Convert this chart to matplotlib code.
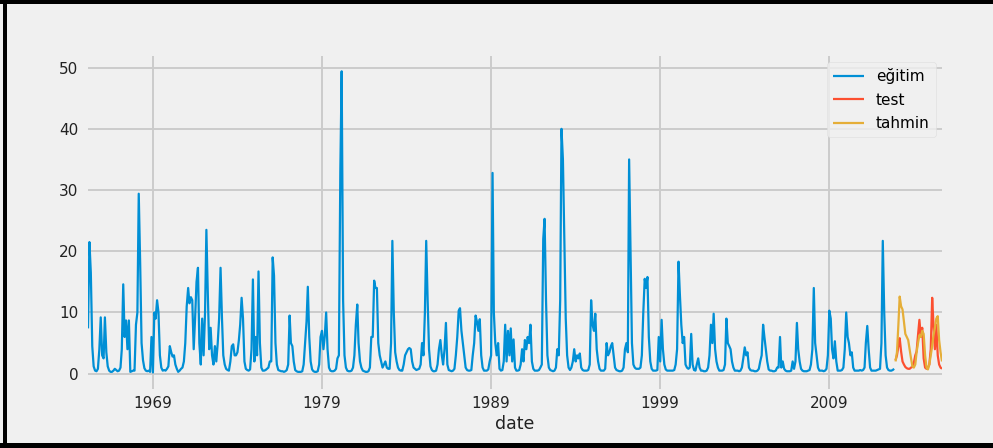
import matplotlib
matplotlib.use("Agg")
import matplotlib.pyplot as plt
import pandas as pd
from matplotlib.patches import Rectangle

plt.style.use("fivethirtyeight")
plt.rcParams["font.family"] = ["DejaVu Sans"]

# ---- data (monthly) ----
train_start = "1965-03-01"
test_start = "2012-12-01"

egitim = [
    7.4, 21.5, 16.5, 4.5, 1.2, 0.5, 0.4, 0.8, 4.0, 9.2,                 # 1965 (Mar-Dec)
    3.0, 2.5, 9.2, 3.5, 1.2, 0.5, 0.3, 0.3, 0.5, 0.8, 0.6, 0.4,         # 1966
    0.5, 1.0, 4.0, 14.6, 6.0, 8.7, 4.0, 8.7, 0.3, 0.4, 0.5, 0.5,        # 1967
    8.0, 10.0, 29.4, 18.0, 5.0, 2.2, 0.9, 0.5, 0.4, 0.5, 0.3, 6.0,      # 1968
    0.2, 10.0, 9.0, 12.0, 10.0, 3.0, 1.0, 0.5, 0.6, 0.5, 0.8, 1.2,      # 1969
    4.5, 3.5, 2.8, 3.0, 1.5, 0.8, 0.3, 0.5, 0.8, 1.0, 2.0, 5.0,         # 1970
    11.0, 14.0, 11.5, 12.5, 12.0, 4.0, 9.0, 15.0, 17.3, 5.0, 1.5, 9.0,  # 1971
    3.0, 10.0, 23.5, 13.0, 4.0, 7.5, 3.0, 1.5, 4.5, 2.0, 5.0, 9.0,      # 1972
    17.3, 9.0, 3.0, 1.5, 0.8, 0.6, 0.5, 2.0, 4.5, 4.8, 3.0, 3.0,        # 1973
    3.5, 5.5, 8.0, 12.4, 9.0, 2.0, 0.8, 0.6, 0.5, 0.7, 4.0, 15.4,       # 1974
    2.0, 6.0, 3.0, 16.7, 5.0, 1.0, 0.5, 0.5, 0.6, 0.8, 1.0, 2.0,        # 1975
    2.0, 19.0, 16.0, 5.0, 1.5, 0.6, 0.5, 0.4, 0.4, 0.3, 0.4, 0.6,       # 1976
    1.5, 9.5, 5.0, 4.5, 2.0, 0.6, 0.4, 0.3, 0.3, 0.3, 0.4, 1.5,         # 1977
    5.0, 8.5, 14.2, 6.0, 2.0, 0.7, 0.4, 0.3, 0.3, 0.4, 1.5, 6.0,        # 1978
    7.0, 4.0, 6.0, 10.0, 4.0, 1.0, 0.5, 0.4, 0.4, 0.5, 0.8, 2.5,        # 1979
    3.0, 33.0, 49.4, 12.0, 3.0, 1.0, 0.5, 0.4, 0.4, 0.5, 1.0, 3.0,      # 1980
    8.0, 11.3, 5.0, 2.0, 1.0, 0.5, 0.4, 0.3, 0.3, 0.4, 1.0, 6.0,        # 1981
    6.0, 15.2, 14.0, 14.0, 5.0, 3.0, 2.0, 1.0, 1.5, 2.0, 1.0, 0.8,      # 1982
    0.8, 5.0, 21.7, 10.0, 3.5, 2.0, 1.0, 0.6, 0.5, 0.5, 1.5, 3.0,       # 1983
    3.5, 4.0, 4.2, 4.0, 2.0, 1.0, 0.8, 0.6, 0.7, 0.8, 1.5, 5.0,         # 1984
    3.0, 10.0, 21.7, 12.0, 4.0, 1.2, 0.6, 0.4, 0.4, 0.5, 1.5, 4.0,      # 1985
    5.5, 3.0, 1.5, 4.0, 8.3, 1.5, 0.6, 0.5, 0.4, 0.5, 0.8, 3.0,         # 1986
    6.0, 10.3, 10.7, 7.0, 5.0, 3.0, 1.0, 0.6, 0.5, 0.5, 0.6, 3.0,       # 1987
    5.0, 9.5, 8.5, 7.0, 8.9, 3.0, 1.0, 0.5, 0.5, 0.5, 0.7, 2.0,         # 1988
    3.0, 32.8, 10.0, 5.0, 3.0, 5.0, 0.8, 0.5, 0.6, 2.0, 8.0, 2.0,       # 1989
    7.0, 3.0, 7.4, 2.0, 5.6, 1.0, 0.5, 0.5, 0.6, 1.5, 4.0, 2.0,         # 1990
    5.5, 4.0, 6.0, 5.0, 8.0, 2.0, 0.8, 0.5, 0.5, 0.5, 0.6, 1.0,         # 1991
    1.5, 22.0, 25.3, 12.0, 3.0, 1.0, 0.6, 0.5, 0.4, 0.5, 1.0, 4.0,      # 1992
    3.0, 12.0, 40.0, 35.0, 22.0, 9.0, 3.0, 1.0, 0.6, 1.0, 2.0, 4.0,     # 1993
    2.0, 3.0, 2.5, 3.3, 1.0, 0.6, 0.5, 0.5, 0.5, 0.6, 1.5, 12.0,        # 1994
    8.0, 7.0, 9.8, 4.0, 2.0, 0.8, 0.5, 0.5, 0.5, 0.8, 5.0, 3.0,         # 1995
    3.5, 4.5, 5.0, 3.0, 1.0, 0.6, 0.5, 0.4, 0.4, 0.5, 1.0, 4.0,         # 1996
    5.0, 3.5, 35.0, 20.0, 5.0, 1.5, 1.0, 0.8, 0.8, 0.8, 1.0, 3.0,       # 1997
    10.0, 15.5, 14.0, 15.8, 6.0, 2.0, 0.8, 0.5, 0.5, 0.5, 0.6, 6.0,     # 1998
    2.0, 8.8, 4.0, 1.5, 0.7, 0.5, 0.5, 0.5, 0.5, 0.5, 0.6, 1.5,         # 1999
    4.0, 18.3, 13.0, 8.0, 5.0, 6.0, 1.5, 1.0, 0.8, 1.0, 6.5, 1.5,       # 2000
    0.6, 0.5, 1.5, 2.5, 1.0, 0.5, 0.5, 0.4, 0.4, 0.5, 1.0, 3.0,         # 2001
    8.0, 5.0, 9.8, 4.0, 2.0, 1.0, 0.5, 0.5, 0.5, 0.6, 1.5, 9.0,         # 2002
    5.0, 4.5, 4.0, 2.0, 1.0, 0.5, 0.5, 0.5, 0.4, 0.5, 1.0, 2.5,         # 2003
    4.3, 3.0, 3.5, 1.0, 0.6, 0.5, 0.5, 0.4, 0.4, 0.5, 0.8, 2.0,         # 2004
    3.0, 8.0, 6.0, 4.0, 2.0, 0.7, 0.5, 0.5, 0.4, 0.4, 0.5, 1.0,         # 2005
    1.0, 6.0, 1.0, 2.0, 0.8, 0.5, 0.4, 0.4, 0.4, 0.5, 2.0, 0.8,         # 2006
    2.0, 8.3, 4.0, 2.0, 0.8, 0.5, 0.4, 0.4, 0.4, 0.5, 0.6, 1.5,         # 2007
    4.0, 14.0, 5.0, 3.0, 1.0, 0.5, 0.5, 0.5, 0.4, 0.5, 0.8, 3.0,        # 2008
    10.3, 9.0, 4.0, 2.5, 5.3, 2.0, 0.5, 0.5, 0.5, 0.6, 1.0, 4.0,        # 2009
    10.0, 6.0, 5.0, 3.0, 3.5, 1.0, 0.5, 0.5, 0.5, 0.5, 0.6, 0.5,        # 2010
    0.6, 1.0, 5.0, 7.8, 4.0, 1.0, 0.5, 0.5, 0.5, 0.5, 0.6, 0.7,         # 2011
    0.8, 5.0, 21.7, 10.0, 3.0, 1.0, 0.6, 0.5, 0.5, 0.6, 0.8,            # 2012 (Jan-Nov)
]

test = [
    2.2,                                                                 # 2012 Dec
    3.0, 4.5, 5.8, 3.6, 2.0, 1.5, 1.1, 0.9, 0.8, 0.8, 1.0, 1.1,         # 2013
    1.8, 3.0, 3.6, 6.3, 8.8, 6.0, 7.5, 2.5, 1.0, 0.8, 1.0, 1.5,         # 2014
    4.0, 12.4, 8.0, 4.0, 8.0, 3.0, 1.5, 1.0, 0.8,                       # 2015 (Jan-Sep)
]

tahmin = [
    2.0,                                                                 # 2012 Dec
    3.5, 8.0, 12.6, 11.0, 10.5, 8.5, 6.5, 6.0, 5.5, 4.0, 2.5, 1.2,      # 2013
    1.0, 1.5, 3.5, 5.0, 6.3, 6.0, 7.0, 6.5, 3.0, 1.0, 0.7, 1.5,         # 2014
    3.0, 4.5, 6.3, 7.5, 9.0, 9.4, 5.5, 3.5, 2.0,                        # 2015 (Jan-Sep)
]

tick_years = [1969, 1979, 1989, 1999, 2009]
y_ticks = [0, 10, 20, 30, 40, 50]
labels = ["eğitim", "test", "tahmin"]
colors = ["#008fd5", "#fc4f30", "#e5ae38"]

train_idx = pd.date_range(train_start, periods=len(egitim), freq="MS")
test_idx = pd.date_range(test_start, periods=len(test), freq="MS")

W, H = 993, 448
fig = plt.figure(figsize=(W / 100, H / 100), dpi=100)
fig.patch.set_facecolor("#f0f0f0")

ax = fig.add_axes([88 / W, 1 - 389 / H, (942 - 88) / W, (389 - 56) / H])
ax.set_facecolor("#f0f0f0")

ax.plot(train_idx, egitim, color=colors[0], lw=1.6, label=labels[0])
ax.plot(test_idx, test, color=colors[1], lw=1.6, label=labels[1])
ax.plot(test_idx, tahmin, color=colors[2], lw=1.6, label=labels[2])

ax.set_xlim(train_idx[0], test_idx[-1])
ax.set_ylim(-2.5, 51.9)
ax.set_xticks([pd.Timestamp(f"{y}-01-01") for y in tick_years])
ax.set_xticklabels([str(y) for y in tick_years])
ax.set_yticks(y_ticks)
ax.tick_params(axis="both", labelsize=11, length=0, colors="#222222")
ax.tick_params(axis="x", pad=5)
ax.tick_params(axis="y", pad=7)
ax.set_xlabel("date", fontsize=12.5, color="#222222", labelpad=3)
ax.grid(True, color="#cbcbcb", lw=1.4)
for s in ax.spines.values():
    s.set_visible(False)

leg = ax.legend(loc="upper right", fontsize=11, borderaxespad=0.4,
                handlelength=2.0, labelspacing=0.55)
leg.get_frame().set_facecolor("#f0f0f0")
leg.get_frame().set_edgecolor("#dddddd")

# black frame around the figure (left, top, bottom)
fig.add_artist(Rectangle((2.7 / W, 0), 4 / W, 1, transform=fig.transFigure,
                         color="black", lw=0))
fig.add_artist(Rectangle((0, 1 - 4 / H), 1, 4 / H, transform=fig.transFigure,
                         color="black", lw=0))
fig.add_artist(Rectangle((0, 0), 1, 5.3 / H, transform=fig.transFigure,
                         color="black", lw=0))

fig.savefig("out.png", dpi=100, facecolor=fig.get_facecolor())
